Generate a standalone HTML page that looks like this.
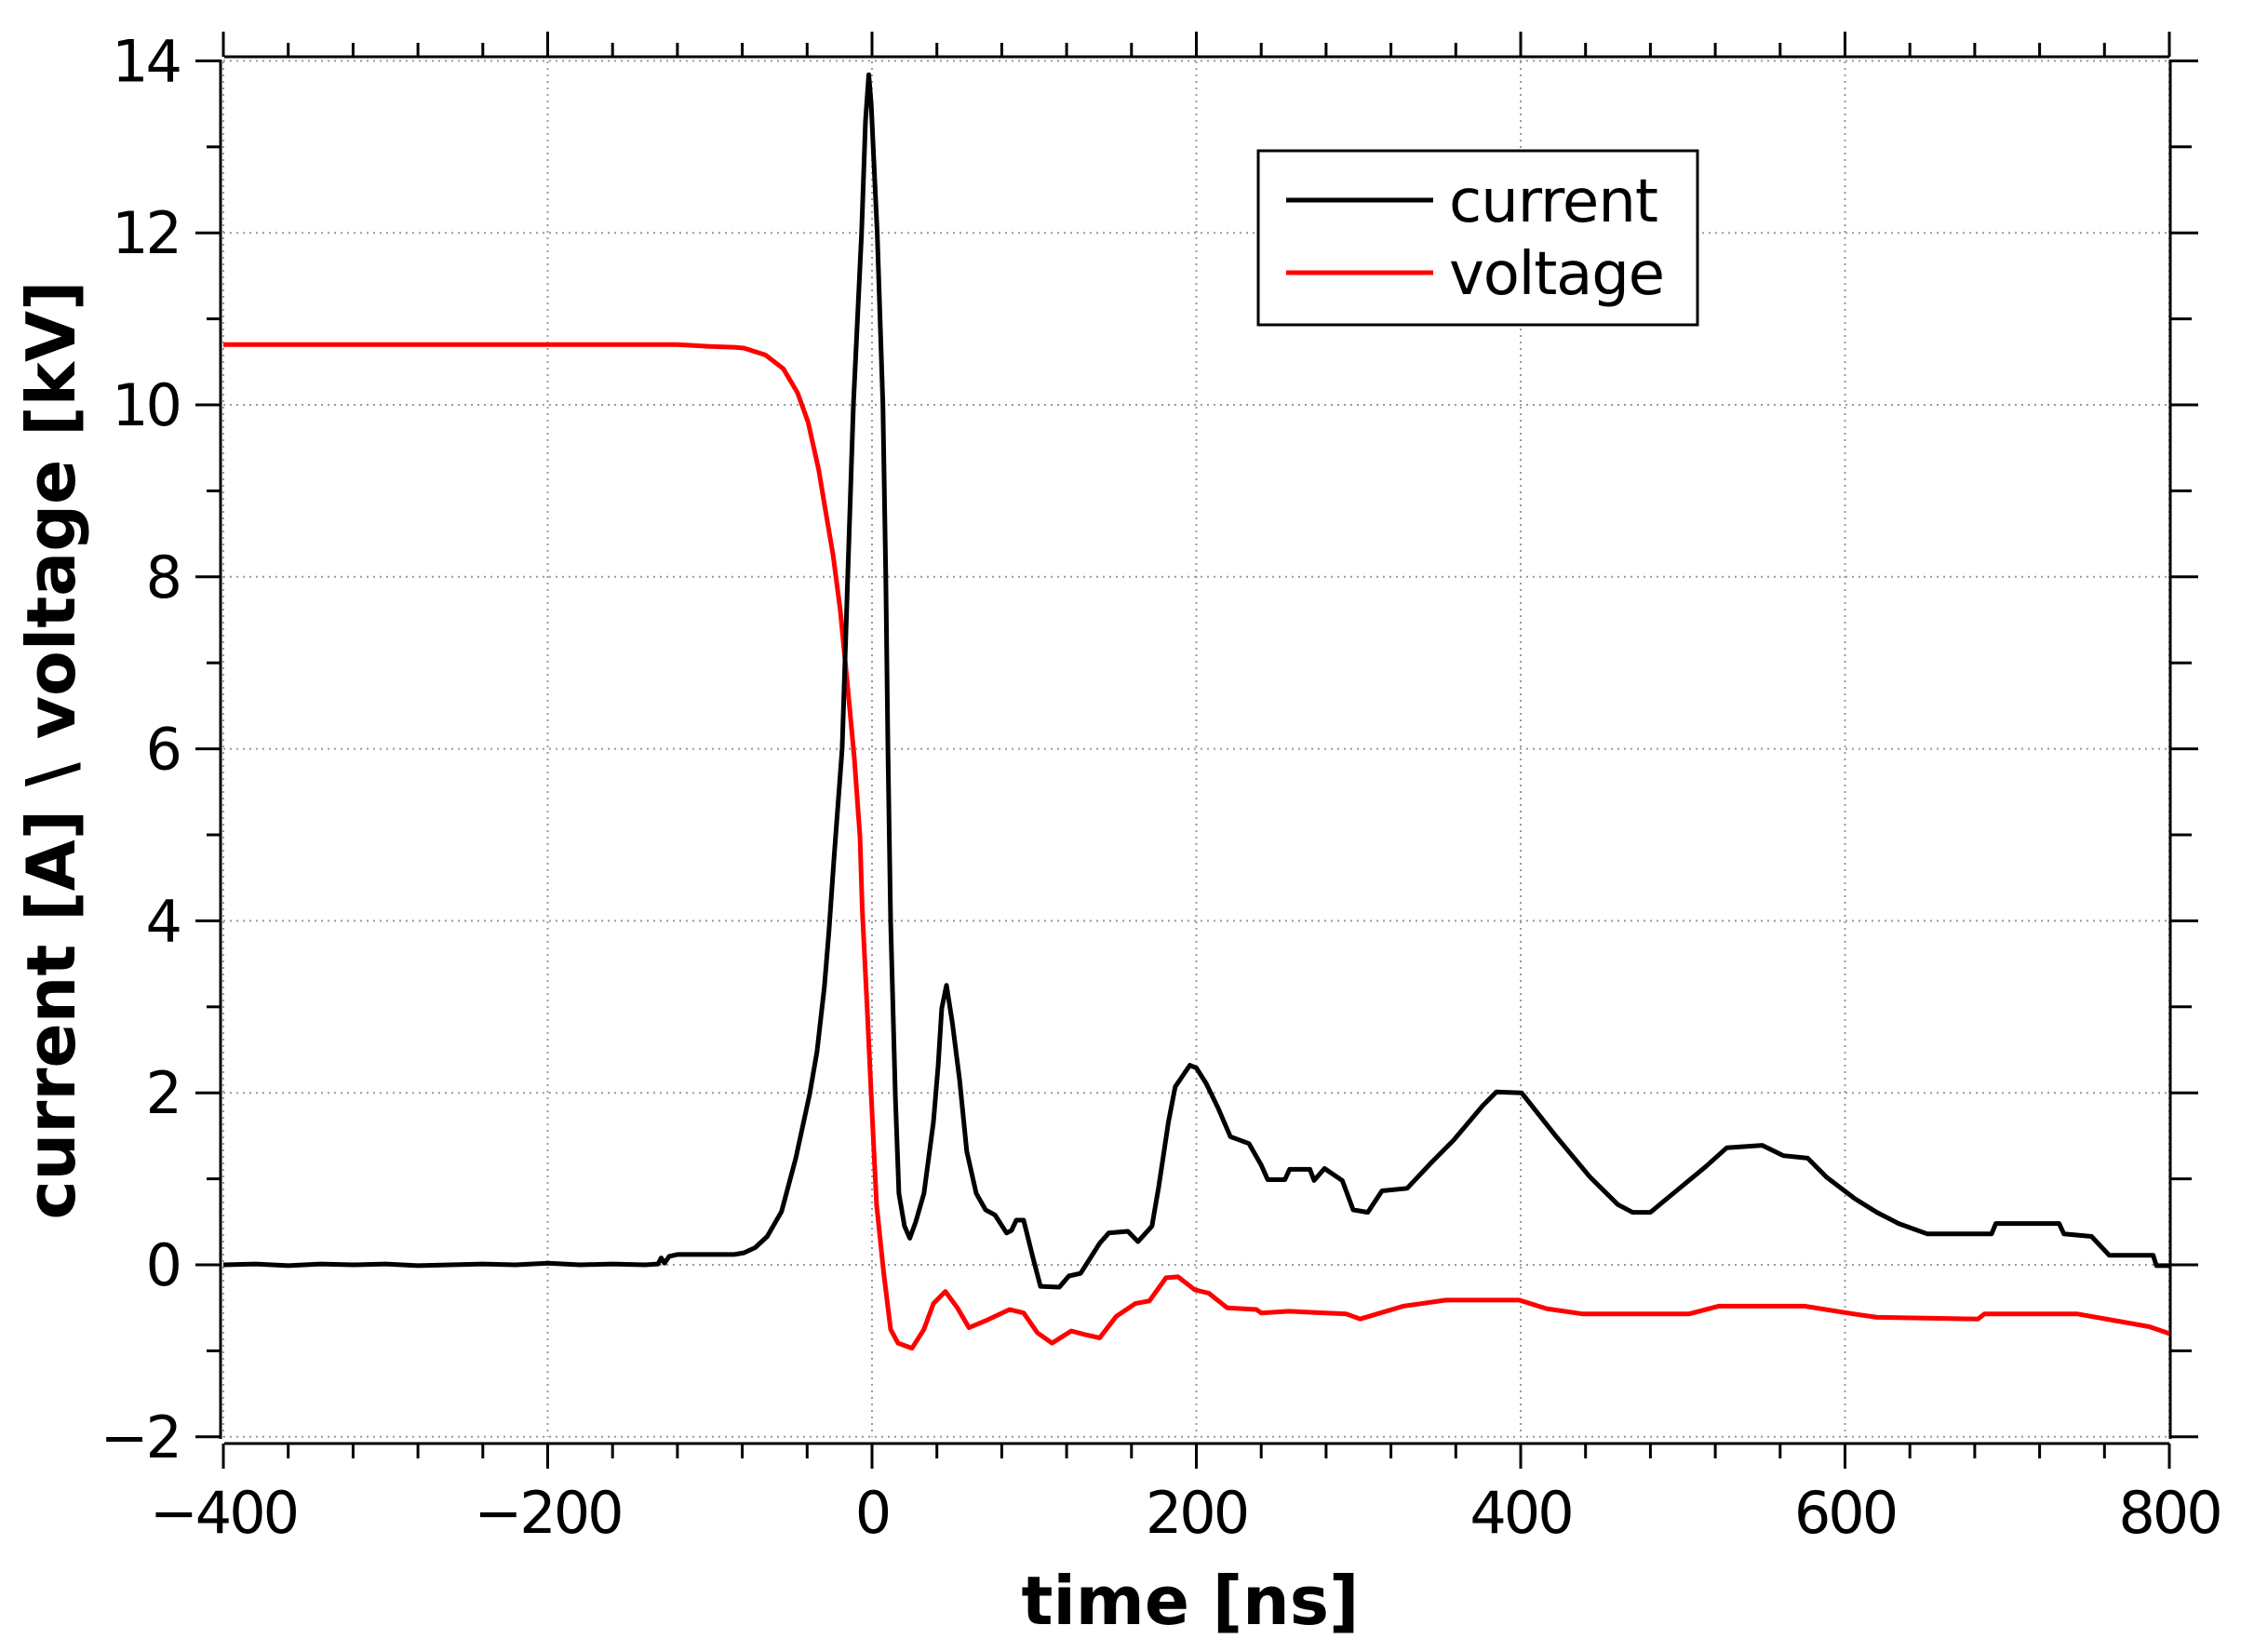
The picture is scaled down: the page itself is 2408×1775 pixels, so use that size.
<!DOCTYPE html>
<html><head><meta charset="utf-8"><style>html,body{margin:0;padding:0;background:#fff}svg{display:block}</style></head>
<body>
<svg xmlns="http://www.w3.org/2000/svg" width="2408" height="1775" viewBox="0 0 2408 1775">
<rect width="2408" height="1775" fill="#fff"/>
<g id="grid" stroke="#999" stroke-width="2" stroke-dasharray="2,5" fill="none"></g>
<g id="axes" stroke="#000" stroke-width="3" fill="none"></g>
<g id="labels" font-family="DejaVu Sans, Liberation Sans, sans-serif" font-size="62" fill="#000"></g>
<polyline id="volt" fill="none" stroke="#ff0000" stroke-width="5" stroke-linejoin="round"/>
<polyline id="cur" fill="none" stroke="#000" stroke-width="5" stroke-linejoin="round"/>
<g>
<rect x="1352" y="162" width="472" height="187" fill="#fff" stroke="#000" stroke-width="3"/>
<line x1="1382" y1="215" x2="1540" y2="215" stroke="#000" stroke-width="5"/>
<line x1="1382" y1="293" x2="1540" y2="293" stroke="#f00" stroke-width="5"/>
<text x="1557" y="238" font-family="DejaVu Sans, Liberation Sans, sans-serif" font-size="64" textLength="225">current</text>
<text x="1557" y="316" font-family="DejaVu Sans, Liberation Sans, sans-serif" font-size="64" textLength="232">voltage</text>
</g>
<text x="1279" y="1745" text-anchor="middle" font-family="DejaVu Sans, Liberation Sans, sans-serif" font-weight="bold" font-size="72" textLength="363" lengthAdjust="spacingAndGlyphs">time [ns]</text>
<text transform="translate(80,806) rotate(-90)" text-anchor="middle" font-family="DejaVu Sans, Liberation Sans, sans-serif" font-weight="bold" font-size="72" textLength="1009" lengthAdjust="spacingAndGlyphs">current [A] \ voltage [kV]</text>
<script>
var X=function(t){return 937+1.7425*t}, Y=function(v){return 1359-92.4*v};
var NS="http://www.w3.org/2000/svg";
function el(p,n,a,txt){var e=document.createElementNS(NS,n);for(var k in a)e.setAttribute(k,a[k]);if(txt!=null)e.textContent=txt;p.appendChild(e);return e;}
var g=document.getElementById('grid'),ax=document.getElementById('axes'),lb=document.getElementById('labels');
for(var t=-400;t<=800;t+=200){el(g,'line',{x1:X(t),y1:66,x2:X(t),y2:1544});}
for(var v=-2;v<=14;v+=2){el(g,'line',{x1:240,y1:Y(v),x2:2330,y2:Y(v)});}
el(ax,'line',{x1:241,y1:61,x2:2331,y2:61});
el(ax,'line',{x1:241,y1:1551,x2:2331,y2:1551});
el(ax,'line',{x1:237,y1:64,x2:237,y2:1546});
el(ax,'line',{x1:2332,y1:64,x2:2332,y2:1546});
for(var t=-400;t<=800;t+=40){var maj=(t%200===0);
 el(ax,'line',{x1:X(t),y1:61,x2:X(t),y2:maj?34:46});
 el(ax,'line',{x1:X(t),y1:1551,x2:X(t),y2:maj?1578:1567});}
for(var v=-2;v<=14;v+=1){var maj=(v%2===0);
 el(ax,'line',{x1:237,y1:Y(v),x2:maj?210:222,y2:Y(v)});
 el(ax,'line',{x1:2332,y1:Y(v),x2:maj?2362:2355,y2:Y(v)});}
for(var t=-400;t<=800;t+=200){el(lb,'text',{x:X(t),y:1647,'text-anchor':'middle','letter-spacing':'-3'},String(t).replace('-','\u2212'));}
for(var v=-2;v<=14;v+=2){el(lb,'text',{x:193,y:Y(v)+22,'text-anchor':'end','letter-spacing':'-3'},String(v).replace('-','\u2212'));}
var cur=[[-400,0],[-380,0.01],[-360,-0.01],[-340,0.01],[-320,0],[-300,0.01],[-280,-0.01],[-260,0],[-240,0.01],[-220,0],[-200,0.02],[-180,0],[-160,0.01],[-140,0],[-132,0.01],[-130,0.08],[-128,0.02],[-125,0.1],[-120,0.12],[-100,0.12],[-85,0.12],[-79,0.14],[-72,0.2],[-64.6,0.33],[-55.8,0.62],[-47,1.24],[-38.4,1.99],[-33.9,2.48],[-29.4,3.23],[-26.5,3.89],[-23.5,4.72],[-18.4,6],[-15,8],[-11.5,10],[-6.4,12],[-4,13.3],[-2,13.84],[-0.5,13.5],[3.2,12],[6.7,10],[8.5,8],[9.8,6],[11.5,4],[14.4,1.95],[16.6,0.83],[20,0.45],[23.3,0.31],[27,0.5],[32,0.83],[37.9,1.66],[40.8,2.32],[43,2.98],[45.9,3.25],[49.6,2.81],[54,2.15],[58.4,1.32],[64.3,0.83],[70,0.64],[75.8,0.58],[83,0.37],[86,0.4],[89,0.52],[93.5,0.52],[99.3,0.08],[103.9,-0.25],[115.5,-0.26],[121.4,-0.13],[128.6,-0.1],[140.4,0.25],[146,0.37],[157.8,0.39],[164,0.27],[172.6,0.45],[176.8,0.91],[182.8,1.66],[187,2.07],[196,2.32],[200,2.29],[206,2.11],[213.5,1.82],[221,1.49],[232.4,1.41],[240,1.16],[244,0.99],[254.6,0.99],[257.5,1.11],[270,1.11],[272.6,0.98],[279,1.12],[290,0.98],[296.7,0.64],[305.7,0.61],[314.5,0.86],[330,0.89],[345.5,1.2],[358.7,1.45],[376.5,1.85],[385,2.01],[400.6,2.0],[420.7,1.52],[442.8,1.02],[460,0.70],[469,0.61],[480,0.61],[496,0.86],[514,1.14],[527,1.36],[549,1.39],[562,1.27],[577,1.24],[588.6,1.02],[606,0.77],[619.6,0.61],[633,0.48],[650.6,0.36],[690.4,0.36],[693,0.48],[732,0.48],[735,0.36],[752,0.33],[763,0.11],[790,0.11],[792,-0.01],[800,-0.01]];
var vol=[[-400,10.7],[-120,10.7],[-100,10.68],[-85,10.67],[-79,10.66],[-65.7,10.58],[-54.7,10.42],[-45.9,10.14],[-39.4,9.8],[-32.8,9.24],[-28.4,8.74],[-24,8.25],[-19.6,7.62],[-15.2,6.76],[-10.9,5.89],[-7.4,4.97],[-6,4.14],[-3,2.98],[0,1.78],[2.8,0.70],[7.2,-0.09],[11.5,-0.75],[16,-0.91],[24.7,-0.97],[32,-0.75],[37.9,-0.45],[45.2,-0.31],[52.6,-0.5],[59.8,-0.73],[70,-0.65],[84.8,-0.52],[93.5,-0.56],[102,-0.79],[111,-0.91],[122.8,-0.77],[131,-0.81],[140.4,-0.85],[150.6,-0.6],[162.4,-0.45],[171,-0.42],[181.3,-0.15],[188.7,-0.14],[199,-0.29],[207.7,-0.33],[219,-0.5],[237,-0.52],[240,-0.56],[257,-0.54],[292.4,-0.57],[301,-0.63],[327.7,-0.48],[354,-0.41],[399,-0.41],[416,-0.51],[438,-0.57],[504,-0.57],[522,-0.48],[575,-0.48],[605,-0.57],[619.6,-0.61],[682,-0.63],[686,-0.57],[743,-0.57],[770,-0.66],[787.7,-0.72],[800,-0.8]];
function pts(a){return a.map(function(p){return X(p[0]).toFixed(1)+','+Y(p[1]).toFixed(1)}).join(' ');}
document.getElementById('cur').setAttribute('points',pts(cur));
document.getElementById('volt').setAttribute('points',pts(vol));
</script>
</svg>
</body></html>
